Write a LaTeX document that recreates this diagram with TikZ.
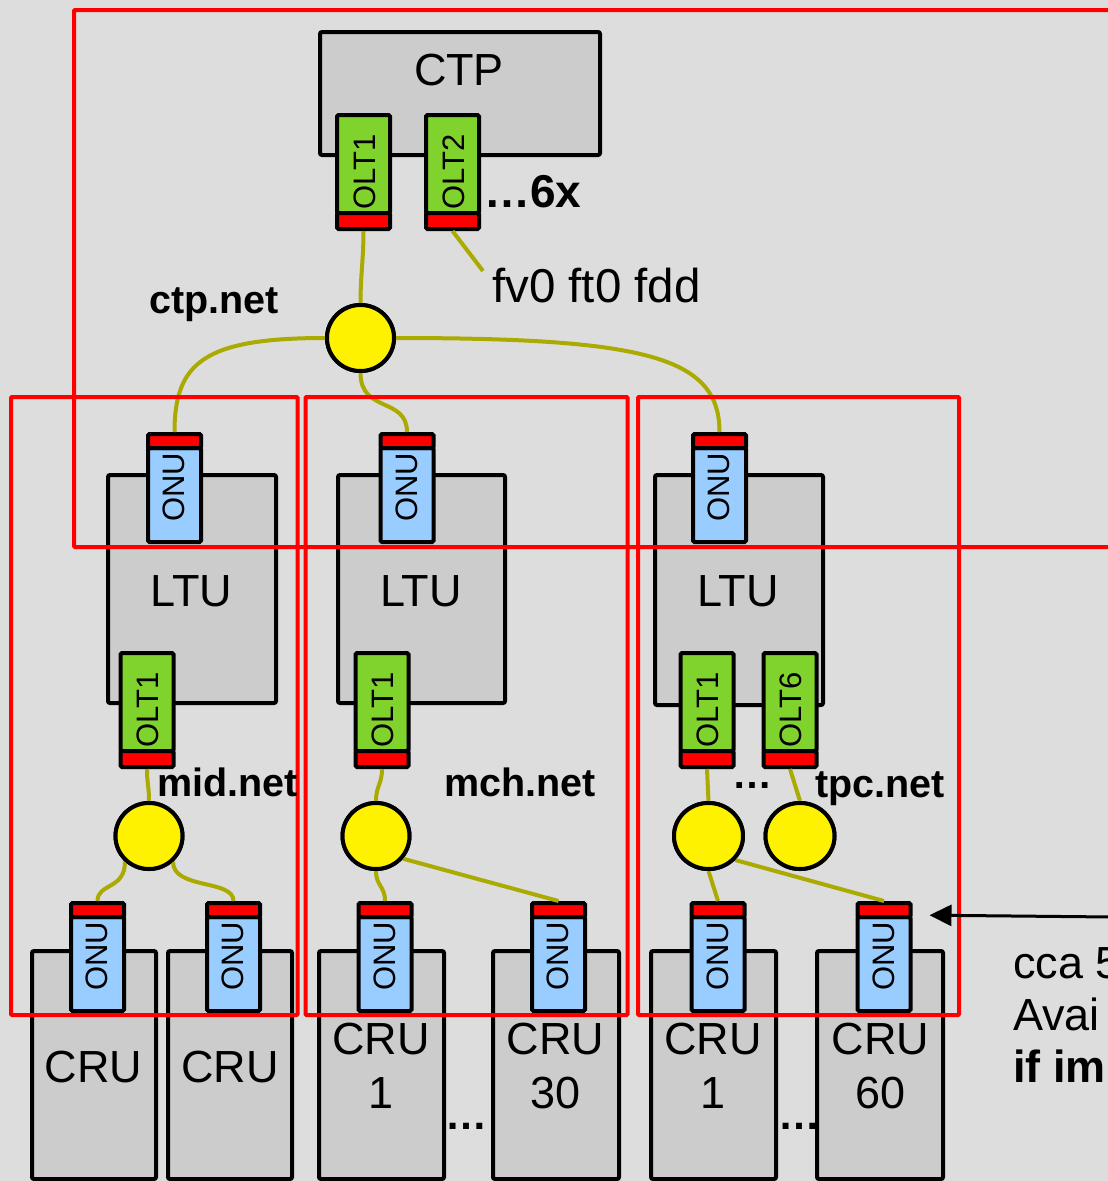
\documentclass[tikz,border=0pt]{standalone}
\usepackage{fontspec}
\setmainfont{Liberation Sans}
\usetikzlibrary{arrows.meta,shapes.geometric}
\definecolor{bg}{RGB}{221,221,221}
\definecolor{boxgray}{RGB}{204,204,204}
\definecolor{onublue}{RGB}{153,204,255}
\definecolor{oltgreen}{RGB}{128,210,45}
\definecolor{wirecol}{RGB}{170,170,0}
\newcommand{\onuunit}[3]{%
  \node[bluecell,minimum height=94pt] (#1) at (#2,#3+63) {};
  \node[redcell,minimum height=14pt] (#1r) at (#2,#3+9) {};
  \node[celltxt] (#1t) at (#2-0.5,#3+55.5) {ONU};}
\newcommand{\oltunit}[4]{%
  \node[greencell,minimum height=98pt] (#1) at (#2,#3+51) {};
  \node[redcell,minimum height=16pt] (#1r) at (#2,#3+108) {};
  \node[celltxt] (#1t) at (#2+1,#3+59) {#4};}
\begin{document}
\begin{tikzpicture}[x=1pt,y=-1pt,
  box/.style={draw=black,line width=4pt,fill=boxgray,rounded corners=2pt,inner sep=0pt,outer sep=0pt},
  cell/.style={draw=black,line width=4pt,inner sep=0pt,minimum width=53pt,rounded corners=1.5pt},
  redcell/.style={cell,fill=red},
  bluecell/.style={cell,fill=onublue},
  greencell/.style={cell,fill=oltgreen},
  splitter/.style={ellipse,draw=black,line width=4pt,fill=yellow,inner sep=0pt,minimum width=67pt,minimum height=66pt},
  wire/.style={draw=wirecol,line width=4pt},
  frame/.style={draw=red,line width=4pt,rounded corners=1pt},
  celltxt/.style={rotate=90,inner sep=0pt,font=\fontsize{31}{31}\selectfont},
  bigtxt/.style={inner sep=0pt,anchor=base,font=\fontsize{45}{54}\selectfont},
  boldtxt/.style={inner sep=0pt,anchor=base west,font=\bfseries\fontsize{39.5}{45}\selectfont},
  dotstxt/.style={inner sep=0pt,anchor=base,font=\bfseries\fontsize{42}{45}\selectfont},
  arrowline/.style={draw=black,line width=3pt,-{Triangle[length=22pt,width=21pt]}},
]
\fill[bg] (0,0) rectangle (1108,1181);
\useasboundingbox (0,0) rectangle (1108,1181);
\clip (0,0) rectangle (1108,1181);

% dots between CRUs (behind the boxes)
\node[dotstxt] (mchdots) at (466,1129) {…};
\node[dotstxt] (tpcdots) at (799,1129) {…};

% boxes
\node[box,minimum width=280pt,minimum height=123pt] (ctp) at (460,93.5) {};
\node[box,minimum width=168pt,minimum height=228pt] (ltu1) at (192,589) {};
\node[box,minimum width=167pt,minimum height=228pt] (ltu2) at (421.5,589) {};
\node[box,minimum width=168pt,minimum height=230pt] (ltu3) at (739,590) {};
\node[box,minimum width=124pt,minimum height=228pt] (cru1) at (94,1065) {};
\node[box,minimum width=124pt,minimum height=228pt] (cru2) at (230,1065) {};
\node[box,minimum width=125pt,minimum height=228pt] (cru3) at (381.5,1065) {};
\node[box,minimum width=126pt,minimum height=228pt] (cru4) at (556,1065) {};
\node[box,minimum width=125pt,minimum height=228pt] (cru5) at (713.5,1065) {};
\node[box,minimum width=126pt,minimum height=228pt] (cru6) at (880,1065) {};

% splitters (placed first so wires can reference them)
\node[splitter] (ctpsp) at (360.5,338) {};
\node[splitter] (midsp) at (149,836) {};
\node[splitter] (mchsp) at (376,836) {};
\node[splitter,minimum width=69pt] (tpcspa) at (708.5,836) {};
\node[splitter,minimum width=69pt] (tpcspb) at (800,836) {};

% cells
\oltunit{ctpo1}{363.5}{113}{OLT1}
\oltunit{ctpo2}{452.5}{113}{OLT2}
\onuunit{ltuo1}{174.5}{432}
\onuunit{ltuo2}{407}{432}
\onuunit{ltuo3}{719.5}{432}
\oltunit{mido}{147}{651}{OLT1}
\oltunit{mcho}{382}{651}{OLT1}
\oltunit{tpco1}{707}{651}{OLT1}
\oltunit{tpco6}{790}{651}{OLT6}
\onuunit{cruo1}{97.5}{901}
\onuunit{cruo2}{233.5}{901}
\onuunit{cruo3}{385}{901}
\onuunit{cruo4}{558.5}{901}
\onuunit{cruo5}{718}{901}
\onuunit{cruo6}{884}{901}

% wires
\coordinate (fvtip) at (483,271);
\draw[wire] (ctpo1r.south) .. controls +(0,28) and +(0,-28) .. (ctpsp.north);
\draw[wire] (ctpo2r.south) -- (fvtip);
\draw[wire] (ctpsp.west) .. controls +(-120,0) and +(0,-70) .. (ltuo1r.north);
\draw[wire] (ctpsp.south) .. controls +(0,40) and +(0,-35) .. (ltuo2r.north);
\draw[wire] (ctpsp.east) .. controls +(250,0) and +(0,-75) .. (ltuo3r.north);
\draw[wire] (midor.south) .. controls +(0,15) and +(0,-15) .. (midsp.north);
\draw[wire] (midsp.227) .. controls +(0,28) and +(0,-18) .. (cruo1r.north);
\draw[wire] (midsp.313) .. controls +(0,28) and +(0,-22) .. (cruo2r.north);
\draw[wire] (mchor.south) .. controls +(0,15) and +(0,-15) .. (mchsp.north);
\draw[wire] (mchsp.south) .. controls +(0,15) and +(0,-15) .. (cruo3r.north);
\draw[wire] (mchsp.320) -- (cruo4r.north);
\draw[wire] (tpco1r.south) -- (tpcspa.north);
\draw[wire] (tpco6r.south) -- (tpcspb.north);
\draw[wire] (tpcspa.south) -- (cruo5r.north);
\draw[wire] (tpcspa.318) -- (cruo6r.north);

% redraw splitters on top of wire ends
\node[splitter] at (ctpsp) {};
\node[splitter] at (midsp) {};
\node[splitter] at (mchsp) {};
\node[splitter,minimum width=69pt] at (tpcspa) {};
\node[splitter,minimum width=69pt] at (tpcspb) {};

% box texts
\node[bigtxt] (ctptxt) at (459,85) {CTP};
\node[bigtxt] (ltu1txt) at (191.5,606) {LTU};
\node[bigtxt] (ltu2txt) at (421,606) {LTU};
\node[bigtxt] (ltu3txt) at (738,606) {LTU};
\node[bigtxt] (cru1txt) at (93.5,1082) {CRU};
\node[bigtxt] (cru2txt) at (230,1082) {CRU};
\node[bigtxt] (cru3txt) at (381,1054) {CRU};
\node[bigtxt] (cru3num) at (381,1108) {1};
\node[bigtxt] (cru4txt) at (555.5,1054) {CRU};
\node[bigtxt] (cru4num) at (555.5,1108) {30};
\node[bigtxt] (cru5txt) at (713,1054) {CRU};
\node[bigtxt] (cru5num) at (713,1108) {1};
\node[bigtxt] (cru6txt) at (880.5,1054) {CRU};
\node[bigtxt] (cru6num) at (880.5,1108) {60};

% red frames
\draw[frame] (1120,10) -- (74,10) -- (74,547) -- (1120,547);
\draw[frame] (11,397) rectangle (297.5,1015);
\draw[frame] (305.5,397) rectangle (627.5,1015);
\draw[frame] (638,397) rectangle (959,1015);

% labels
\node[inner sep=0pt,anchor=base west,font=\bfseries\fontsize{46}{52}\selectfont] (sixx) at (484,207) {…6x};
\node[inner sep=0pt,anchor=base west,font=\fontsize{47.5}{52}\selectfont] (fvlbl) at (492,302) {fv0 ft0 fdd};
\node[boldtxt] (ctpnet) at (149,313) {ctp.net};
\node[boldtxt] (midnet) at (157,796) {mid.net};
\node[boldtxt] (mchnet) at (444,796) {mch.net};
\node[boldtxt] (tpcnet) at (815,797) {tpc.net};
\node[dotstxt,font=\bfseries\fontsize{40}{44}\selectfont] (oltdots) at (752,788) {…};

% note and arrow
\coordinate (notetail) at (1112,917);
\draw[arrowline,shorten >=17pt] (notetail) -- (cruo6.north east);
\node[bigtxt,anchor=base west] (note1) at (1013,978) {cca 5};
\node[bigtxt,anchor=base west] (note2) at (1013,1030) {Avai};
\node[bigtxt,anchor=base west,font=\bfseries\fontsize{45}{54}\selectfont] (note3) at (1013,1082) {if im};
\end{tikzpicture}
\end{document}
